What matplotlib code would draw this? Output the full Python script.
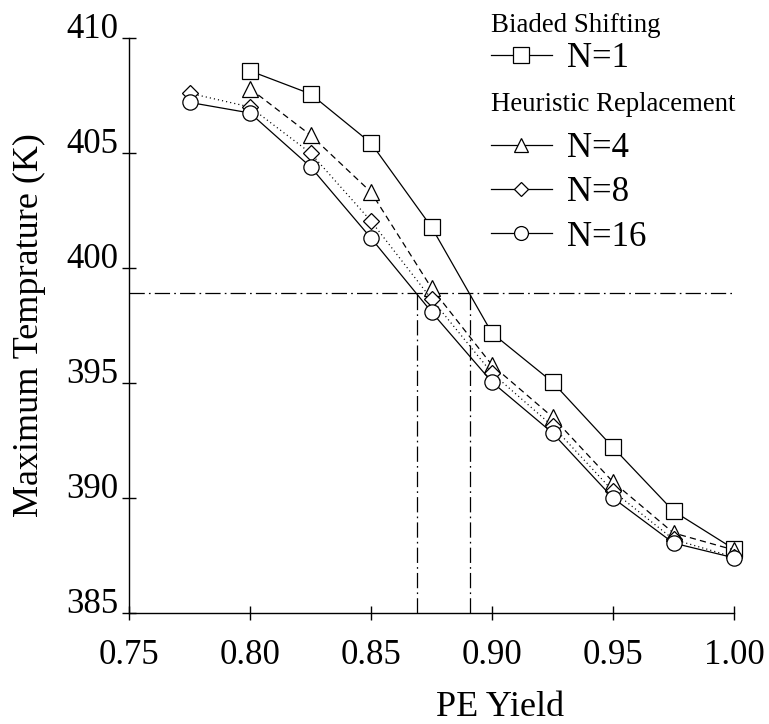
import matplotlib
matplotlib.use("Agg")
import matplotlib.pyplot as plt
from matplotlib.lines import Line2D

plt.rcParams['font.family'] = ['Liberation Serif', 'DejaVu Serif']
plt.rcParams['lines.scale_dashes'] = False

# ---- data ----
x_short = [0.80, 0.825, 0.85, 0.875, 0.90, 0.925, 0.95, 0.975, 1.00]
x_long = [0.775, 0.80, 0.825, 0.85, 0.875, 0.90, 0.925, 0.95, 0.975, 1.00]
n1 = [408.57, 407.57, 405.43, 401.78, 397.17, 395.04, 392.2, 389.43, 387.78]
n4 = [407.8, 405.78, 403.3, 399.13, 395.78, 393.52, 390.7, 388.48, 387.74]
n8 = [407.6, 407.0, 405.0, 402.04, 398.65, 395.43, 393.13, 390.3, 388.2, 387.43]
n16 = [407.2, 406.74, 404.4, 401.3, 398.09, 395.04, 392.83, 390.0, 388.04, 387.4]
y_ref = 398.9
x_refs = [0.869, 0.891]
xticks = [0.75, 0.80, 0.85, 0.90, 0.95, 1.00]
xticklabels = ["0.75", "0.80", "0.85", "0.90", "0.95", "1.00"]
yticks = [385, 390, 395, 400, 405, 410]

W, H = 769, 724
fig = plt.figure(figsize=(W / 100, H / 100), dpi=100)
ax = fig.add_axes([129 / W, 1 - 613 / H, 605 / W, 575 / H])

lw = 0.9
mkw = dict(mfc='white', mec='black', mew=0.9, color='black', clip_on=False)
ax.plot(x_short, n1, '-', marker='s', ms=11, lw=lw, zorder=3, **mkw)
ax.plot(x_short, n4, linestyle=(0, (4.5, 3)), marker='^', ms=11, lw=lw, zorder=3, **mkw)
ax.plot(x_long, n8, linestyle=(0, (0.8, 2.2)), marker='D', ms=8, lw=lw, zorder=3, **mkw)
ax.plot(x_long, n16, '-', marker='o', ms=11, lw=lw, zorder=3, **mkw)

ref_ls = (0, (11, 3, 1.2, 3))
ax.plot([0.75, 1.0], [y_ref, y_ref], color='black', lw=0.9, linestyle=ref_ls, zorder=2)
for xr in x_refs:
    ax.plot([xr, xr], [385, y_ref], color='black', lw=0.9, linestyle=ref_ls, zorder=2)

ax.set_xlim(0.75, 1.0)
ax.set_ylim(385, 410)
for s in ['top', 'right']:
    ax.spines[s].set_visible(False)
for s in ['left', 'bottom']:
    ax.spines[s].set_linewidth(1.0)

ax.set_xticks(xticks)
ax.set_xticklabels(xticklabels)
ax.set_yticks(yticks)
ax.set_yticklabels([str(v) for v in yticks])
ax.tick_params(axis='both', direction='inout', length=10, width=1.0, labelsize=25)
ax.tick_params(axis='x', pad=14)
ax.tick_params(axis='y', pad=3)
for lbl in ax.get_yticklabels():
    lbl.set_verticalalignment('baseline')

ax.set_xlabel("PE Yield", fontsize=26)
ax.xaxis.set_label_coords(0.613, -0.179)
ax.xaxis.label.set_verticalalignment('baseline')
ax.set_ylabel("Maximum Temprature (K)", fontsize=26)
ax.yaxis.set_label_coords(-0.164, 0.5)
ax.yaxis.label.set_verticalalignment('center')

def handle(marker, ms):
    return Line2D([], [], color='black', lw=lw, marker=marker, ms=ms,
                  mfc='white', mec='black', mew=0.9)

leg_kw = dict(frameon=False, loc='upper left', borderpad=0, borderaxespad=0,
              handlelength=1.75, handletextpad=0.45, labelspacing=0.32,
              fontsize=25, title_fontsize=19.4, alignment='left')
leg1 = fig.legend([handle('s', 11)], ["N=1"], title="Biaded Shifting",
                  bbox_to_anchor=(491 / W, 1 - 13 / H), **leg_kw)
leg1._legend_box.sep = 3
leg2 = fig.legend([handle('^', 10), handle('D', 7.5), handle('o', 10)],
                  ["N=4", "N=8", "N=16"], title="Heuristic Replacement",
                  bbox_to_anchor=(491 / W, 1 - 92 / H), **leg_kw)
leg2._legend_box.sep = 11

fig.savefig("out.png", dpi=100)
